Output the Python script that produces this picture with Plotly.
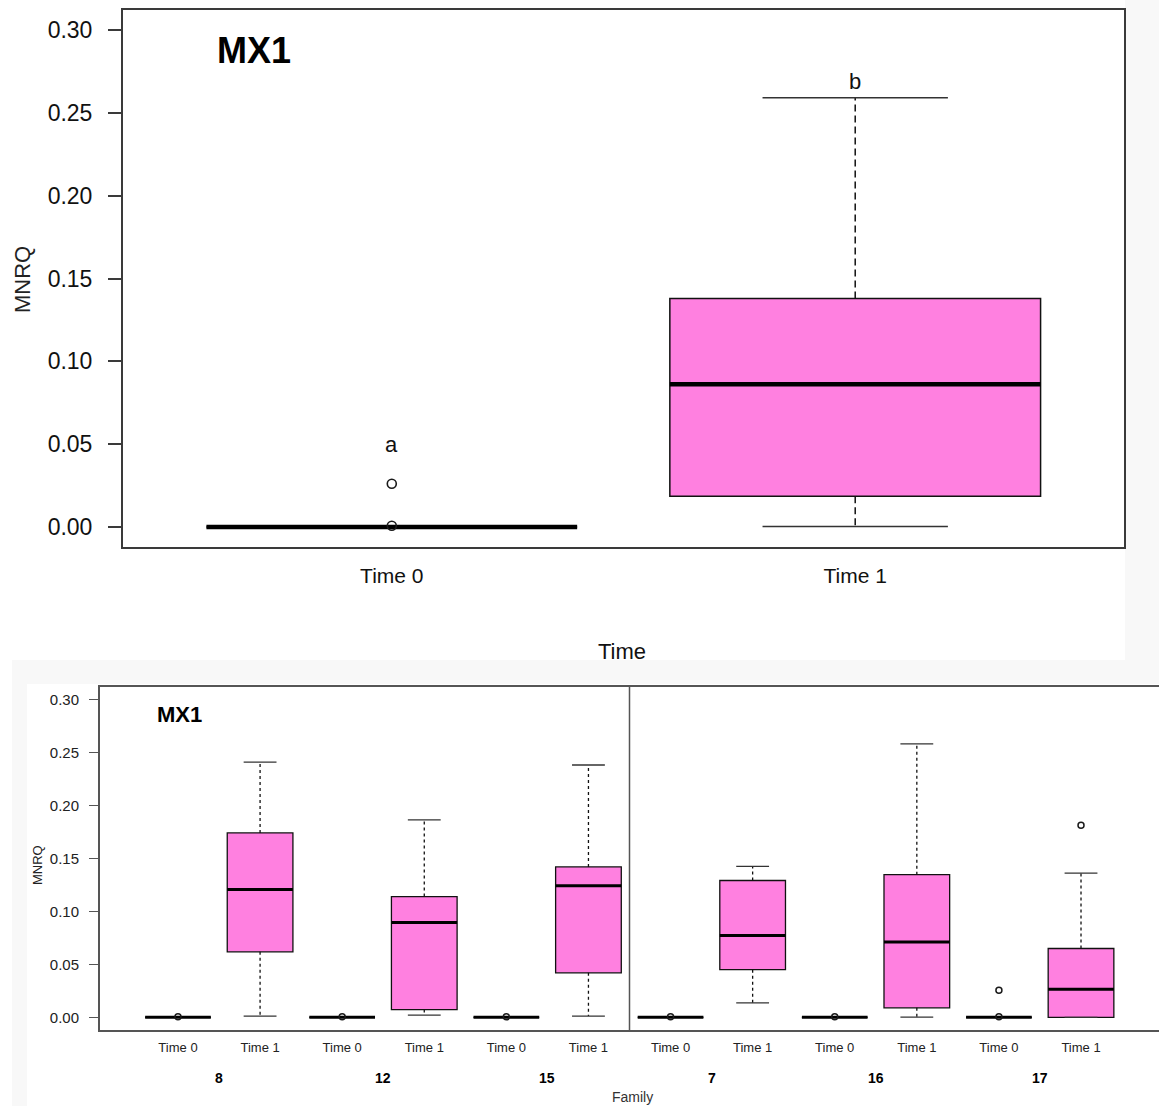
import plotly.graph_objects as go

# ---- Overall comparison: MNRQ of MX1 at Time 0 vs Time 1 ----
time_labels = ["Time 0", "Time 1"]
overall_q1 = [0.0, 0.0186]
overall_median = [0.0, 0.0862]
overall_q3 = [0.0, 0.1380]
overall_low = [0.0, 0.0004]
overall_high = [0.0, 0.2590]
overall_outliers = [[0.0262, 0.0008], []]
overall_letters = ["a", "b"]

# ---- Same gene split by family (two groups of three families) ----
families = ["8", "12", "15", "7", "16", "17"]
t0_q1 = [0.0, 0.0, 0.0, 0.0, 0.0, 0.0]
t0_median = [0.0, 0.0, 0.0, 0.0, 0.0, 0.0]
t0_q3 = [0.0, 0.0, 0.0, 0.0, 0.0, 0.0]
t0_low = [0.0, 0.0, 0.0, 0.0, 0.0, 0.0]
t0_high = [0.0, 0.0, 0.0, 0.0, 0.0, 0.0]
t0_outliers = [[0.0004], [0.0004], [0.0004], [0.0004], [0.0004], [0.0255, 0.0004]]
t1_q1 = [0.0618, 0.0073, 0.0420, 0.0450, 0.0089, 0.0000]
t1_median = [0.1208, 0.0896, 0.1242, 0.0773, 0.0712, 0.0265]
t1_q3 = [0.1742, 0.1140, 0.1420, 0.1292, 0.1347, 0.0650]
t1_low = [0.0012, 0.0020, 0.0012, 0.0137, 0.0002, 0.0000]
t1_high = [0.2410, 0.1864, 0.2383, 0.1425, 0.2583, 0.1362]
t1_outliers = [[], [], [], [], [], [0.1815]]

PINK = "#FF80E0"
INK = "#111111"
FRAME = "#3a3a3a"
FONT = "Liberation Sans, Arial, sans-serif"
W, H = 1159, 1106

fig = go.Figure()


def add_boxes(pos, q1, med, q3, lo, hi, outl, xa, ya, half=0.4, cap=0.2,
              lw=1.5, mw=4, dash="7px,4px", msize=9, mline=1.6):
    # dashed whiskers
    wx, wy = [], []
    for p, a, b, c, d in zip(pos, lo, q1, q3, hi):
        wx += [p, p, None, p, p, None]
        wy += [c, d, None, b, a, None]
    fig.add_trace(go.Scatter(x=wx, y=wy, mode="lines", xaxis=xa, yaxis=ya,
                             line=dict(color=INK, width=lw, dash=dash),
                             hoverinfo="skip", showlegend=False))
    # whisker caps
    cx, cy = [], []
    for p, a, d in zip(pos, lo, hi):
        cx += [p - cap, p + cap, None, p - cap, p + cap, None]
        cy += [d, d, None, a, a, None]
    fig.add_trace(go.Scatter(x=cx, y=cy, mode="lines", xaxis=xa, yaxis=ya,
                             line=dict(color="#333333", width=lw),
                             hoverinfo="skip", showlegend=False))
    # boxes (Q1..Q3)
    fig.add_trace(go.Bar(x=pos, y=[c - b for b, c in zip(q1, q3)], base=q1,
                         width=2 * half, xaxis=xa, yaxis=ya,
                         marker=dict(color=PINK, line=dict(color=INK, width=lw)),
                         hoverinfo="skip", showlegend=False))
    # medians
    mx, my = [], []
    for p, m in zip(pos, med):
        mx += [p - half, p + half, None]
        my += [m, m, None]
    fig.add_trace(go.Scatter(x=mx, y=my, mode="lines", xaxis=xa, yaxis=ya,
                             line=dict(color="#000000", width=mw),
                             hoverinfo="skip", showlegend=False))
    # outliers
    ox, oy = [], []
    for p, vals in zip(pos, outl):
        for v in vals:
            ox.append(p)
            oy.append(v)
    fig.add_trace(go.Scatter(x=ox, y=oy, mode="markers", xaxis=xa, yaxis=ya,
                             marker=dict(symbol="circle-open", size=msize, color="#1a1a1a",
                                         line=dict(width=mline)),
                             hoverinfo="skip", showlegend=False))


# top panel
top_pos = list(range(1, len(time_labels) + 1))
add_boxes(top_pos, overall_q1, overall_median, overall_q3, overall_low,
          overall_high, overall_outliers, "x", "y", mw=4.5)

# bottom panel: Time 0 / Time 1 alternate for each family
n_fam = len(families)
pos0 = [2 * i + 1 for i in range(n_fam)]
pos1 = [2 * i + 2 for i in range(n_fam)]
add_boxes(pos0 + pos1, t0_q1 + t1_q1, t0_median + t1_median, t0_q3 + t1_q3,
          t0_low + t1_low, t0_high + t1_high, t0_outliers + t1_outliers,
          "x2", "y2", lw=1.3, mw=3, dash="3px,3px", msize=6, mline=1.5)


def px_x(v):
    return v / W


def px_y(v):
    return 1 - v / H


yticks = [0.0, 0.05, 0.10, 0.15, 0.20, 0.25, 0.30]
ytext = ["%.2f" % v for v in yticks]


def label(text, x, y, size, color="#111", angle=0):
    return dict(text=text, x=px_x(x), y=px_y(y), xref="paper", yref="paper",
                xanchor="center", yanchor="middle", showarrow=False, textangle=angle,
                font=dict(size=size, color=color, family=FONT))


annotations = [
    label("<b>MX1</b>", 254, 50, 36, "#000"),
    label("MNRQ", 22, 280, 22, "#222", -90),
    label("Time", 622, 651, 22),
    label("<b>MX1</b>", 179, 714, 22, "#000"),
    label("MNRQ", 37, 865, 13, "#222", -90),
    label("Family", 632, 1097, 14, "#333"),
]
# significance letters above each box
for p, letter, hi, outl in zip(top_pos, overall_letters, overall_high, overall_outliers):
    top_val = max([hi] + outl)
    annotations.append(dict(text=letter, x=p, y=top_val, xref="x", yref="y",
                            xanchor="center", showarrow=False, yanchor="bottom",
                            yshift=25 if outl else 2,
                            font=dict(size=22, color="#111", family=FONT)))
# family labels under each Time 0 / Time 1 pair
for i, fam in enumerate(families):
    annotations.append(dict(text="<b>%s</b>" % fam, x=(pos0[i] + pos1[i]) / 2,
                            y=px_y(1078), xref="x2", yref="paper", showarrow=False,
                            xanchor="center", yanchor="middle",
                            font=dict(size=14, color="#000", family=FONT)))

shapes = [
    # light grey surround of the two images
    dict(type="rect", xref="paper", yref="paper", x0=px_x(1125), x1=1, y0=px_y(660), y1=1,
         fillcolor="#f8f8f8", line=dict(width=0), layer="below"),
    dict(type="rect", xref="paper", yref="paper", x0=px_x(12), x1=1, y0=px_y(684), y1=px_y(660),
         fillcolor="#f8f8f8", line=dict(width=0), layer="below"),
    dict(type="rect", xref="paper", yref="paper", x0=px_x(12), x1=px_x(27), y0=0, y1=px_y(684),
         fillcolor="#f8f8f8", line=dict(width=0), layer="below"),
    # divider between the two family groups
    dict(type="line", xref="x2", yref="y2 domain", x0=2 * 3 + 0.5, x1=2 * 3 + 0.5, y0=0, y1=1,
         line=dict(color="#555", width=1.5)),
]

fig.update_layout(
    width=W, height=H,
    margin=dict(l=0, r=0, t=0, b=0),
    paper_bgcolor="white", plot_bgcolor="white",
    barmode="overlay", showlegend=False,
    font=dict(family=FONT, color="#111"),
    xaxis=dict(domain=[px_x(123), px_x(1124)], range=[0.42, 2.58],
               tickvals=top_pos, ticktext=time_labels, ticks="",
               showgrid=False, zeroline=False, showline=True, mirror=True,
               linecolor=FRAME, linewidth=2, ticklabelstandoff=9,
               tickfont=dict(size=21, color="#111", family=FONT), anchor="y"),
    yaxis=dict(domain=[px_y(547), px_y(10)], range=[-0.012, 0.312],
               tickvals=yticks, ticktext=ytext, ticks="outside", ticklen=13,
               tickwidth=1.5, tickcolor=FRAME, showgrid=False, zeroline=False,
               showline=True, mirror=True, linecolor=FRAME, linewidth=2,
               ticklabelstandoff=11,
               tickfont=dict(size=23, color="#111", family=FONT), anchor="x"),
    xaxis2=dict(domain=[px_x(100), 1.0], range=[0.05, 12.95],
                tickvals=pos0 + pos1, ticktext=["Time 0"] * n_fam + ["Time 1"] * n_fam,
                ticks="", showgrid=False, zeroline=False, showline=True, mirror=True,
                linecolor="#555", linewidth=2, ticklabelstandoff=4,
                tickfont=dict(size=13, color="#222", family=FONT), anchor="y2"),
    yaxis2=dict(domain=[px_y(1030), px_y(687)], range=[-0.012, 0.312],
                tickvals=yticks, ticktext=ytext, ticks="outside", ticklen=9,
                tickwidth=1.2, tickcolor="#555", showgrid=False, zeroline=False,
                showline=True, mirror=False, linecolor="#555", linewidth=2,
                ticklabelstandoff=7,
                tickfont=dict(size=15, color="#222", family=FONT), anchor="x2"),
    annotations=annotations,
    shapes=shapes,
)

fig.write_html("out.html")
